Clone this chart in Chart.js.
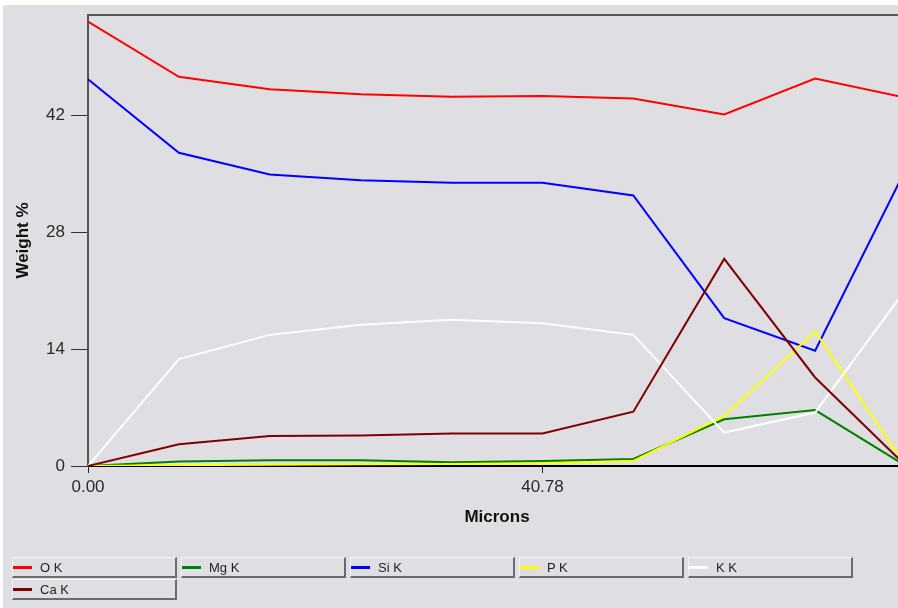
<!DOCTYPE html>
<html>
<head>
<meta charset="utf-8">
<title>Weight % vs Microns</title>
<script src="https://cdn.jsdelivr.net/npm/chart.js@4.4.1/dist/chart.umd.min.js"></script>
<style>
  html, body { margin: 0; padding: 0; background: #ffffff; width: 898px; height: 608px; overflow: hidden; }
  #frame { position: absolute; left: 3px; top: 5px; width: 895px; height: 603px; background: #dfdfe3; overflow: hidden; }
  #plot { position: absolute; left: 0; top: 0; }
  .item { position: absolute; box-sizing: border-box; width: 165px; height: 21px;
          border-top: 1px solid #f3f3f5; border-left: 1px solid #f3f3f5;
          border-right: 2px solid #6b6b6b; border-bottom: 2px solid #6b6b6b;
          font: 13px "Liberation Sans", Arial, sans-serif; color: #222; }
  .item i { position: absolute; left: 0; top: 8px; width: 19px; height: 3px; }
  .item span { position: absolute; left: 27px; top: 3px; line-height: 13px; white-space: nowrap; }
</style>
</head>
<body>
<div id="frame">
  <canvas id="plot" width="903" height="603"></canvas>
  <div id="legend"></div>
</div>
<script>
// Distance along the line scan (microns)
const microns = [0.00, 8.156, 16.312, 24.468, 32.624, 40.78, 48.936, 57.092, 65.248, 73.404];

// Weight % of each element at every scan position
const oK  = [53.2, 46.6, 45.1, 44.5, 44.2, 44.3, 44.0, 42.1, 46.4, 44.1];
const mgK = [0.0, 0.55, 0.7, 0.7, 0.45, 0.6, 0.85, 5.6, 6.7, 0.0];
const siK = [46.3, 37.5, 34.9, 34.2, 33.9, 33.9, 32.4, 17.7, 13.8, 35.6];
const pK  = [0.0, 0.1, 0.15, 0.2, 0.25, 0.3, 0.6, 6.0, 16.1, 0.0];
const kK  = [0.0, 12.8, 15.7, 16.9, 17.5, 17.1, 15.7, 4.0, 6.4, 21.2];
const caK = [0.0, 2.6, 3.6, 3.65, 3.9, 3.9, 6.5, 24.8, 10.6, 0.0];

const seriesNames  = ['O K', 'Mg K', 'Si K', 'P K', 'K K', 'Ca K'];
const seriesValues = [oK, mgK, siK, pK, kK, caK];
const seriesColors = ['#ff0000', '#008000', '#0000ff', '#ffff00', '#ffffff', '#800000'];

// Axis tick values and labels
const yTicks = [0, 14, 28, 42];
const xTicks = [0, 40.78];
const xTickLabels = ['0.00', '40.78'];

Chart.defaults.font.family = '"Liberation Sans", Arial, sans-serif';

const datasets = seriesNames.map((name, i) => ({
  label: name,
  data: microns.map((x, j) => ({ x: x, y: seriesValues[i][j] })),
  borderColor: seriesColors[i],
  backgroundColor: seriesColors[i],
  borderWidth: 2,
  pointRadius: 0,
  tension: 0,
  fill: false,
  order: seriesNames.length - i   // later series are painted over earlier ones
}));

// Dark frame line along the top of the plotting area
const topFrame = {
  id: 'topFrame',
  beforeDatasetsDraw(chart) {
    const { ctx, chartArea } = chart;
    ctx.save();
    ctx.strokeStyle = '#555555';
    ctx.lineWidth = 2;
    ctx.beginPath();
    ctx.moveTo(chartArea.left - 1, chartArea.top);
    ctx.lineTo(chartArea.right, chartArea.top);
    ctx.stroke();
    ctx.restore();
  }
};

new Chart(document.getElementById('plot'), {
  type: 'line',
  data: { datasets },
  plugins: [topFrame],
  options: {
    responsive: false,
    animation: false,
    devicePixelRatio: 1,
    layout: { padding: { left: 0, right: 0, top: 10, bottom: 72 } },
    plugins: { legend: { display: false }, tooltip: { enabled: false } },
    scales: {
      x: {
        type: 'linear',
        min: 0,
        max: microns[microns.length - 1],
        afterBuildTicks: s => { s.ticks = xTicks.map(v => ({ value: v })); },
        afterFit: s => { s.height = 70; s.paddingLeft = 0; s.paddingRight = 0; },
        ticks: {
          autoSkip: false, maxRotation: 0, padding: 4,
          color: '#2a2a2a', font: { size: 17 },
          callback: v => xTickLabels[xTicks.indexOf(v)] ?? ''
        },
        grid: { drawOnChartArea: false, drawTicks: true, tickLength: 7, tickColor: '#222', tickWidth: 1 },
        border: { color: '#000000', width: 2 },
        title: { display: true, text: 'Microns', color: '#111', font: { size: 17, weight: 'bold' }, padding: { top: 0, bottom: 8 } }
      },
      y: {
        type: 'linear',
        min: 0,
        max: 54,
        afterBuildTicks: s => { s.ticks = yTicks.map(v => ({ value: v })); },
        afterFit: s => { s.width = 85; s.paddingTop = 0; s.paddingBottom = 0; },
        ticks: { padding: 6, color: '#2a2a2a', font: { size: 17 } },
        grid: { drawOnChartArea: false, drawTicks: true, tickLength: 17, tickColor: '#333', tickWidth: 1 },
        border: { color: '#555555', width: 2 },
        title: { display: true, text: 'Weight %', color: '#111', font: { size: 17, weight: 'bold' }, padding: { top: 10, bottom: 0 } }
      }
    }
  }
});

// Legend: five boxed entries per row
const legend = document.getElementById('legend');
seriesNames.forEach((name, i) => {
  const box = document.createElement('div');
  box.className = 'item';
  box.style.left = (9 + (i % 5) * 169) + 'px';
  box.style.top = (552 + Math.floor(i / 5) * 22) + 'px';
  const swatch = document.createElement('i');
  swatch.style.background = seriesColors[i];
  const text = document.createElement('span');
  text.textContent = name;
  box.appendChild(swatch);
  box.appendChild(text);
  legend.appendChild(box);
});
</script>
</body>
</html>
